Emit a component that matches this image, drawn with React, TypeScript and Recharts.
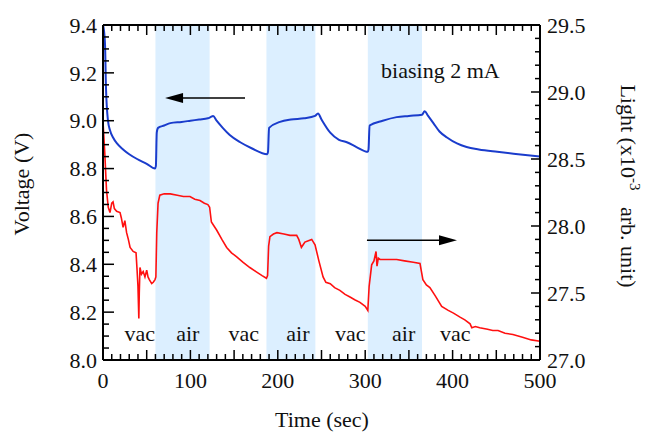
import React from 'react';
import { LineChart, Line, XAxis, YAxis, ReferenceArea, ReferenceLine, ReferenceDot } from 'recharts';

// voltage under 2 mA bias (left axis)
const voltT = [
  0, 1, 2.3, 3.4, 5.7, 8, 11.5, 16, 23, 30,
  39, 50, 59.5, 60.5, 61.5, 63, 70, 77, 90, 100,
  110, 120, 123, 126, 130, 137, 145, 157, 170, 188,
  188.8, 190, 202.5, 215, 230, 242.6, 246, 250, 260, 270,
  279, 290, 303, 303.8, 305, 320, 336, 350, 365, 368,
  372, 378, 385, 393.6, 405, 416, 430, 451, 475, 500,
];
const voltV = [
  9.4, 9.38, 9.32, 9.14, 9.0, 8.96, 8.93, 8.905, 8.88, 8.86,
  8.84, 8.82, 8.8, 8.81, 8.95, 8.97, 8.98, 8.99, 8.995, 9.0,
  9.005, 9.01, 9.015, 9.02, 9.0, 8.97, 8.94, 8.91, 8.885, 8.86,
  8.87, 8.97, 8.995, 9.005, 9.01, 9.02, 9.03, 9.005, 8.95, 8.92,
  8.91, 8.89, 8.87, 8.88, 8.98, 9.0, 9.015, 9.02, 9.025, 9.04,
  9.02, 8.99, 8.955, 8.93, 8.905, 8.89, 8.88, 8.87, 8.86, 8.85,
];

// light output x10^-3 (right axis)
const lightT = [
  0, 2, 4, 6, 8, 10, 11.5, 13, 15.6, 19.5,
  21, 23, 25, 27, 29, 31, 34.5, 37.8, 39, 40,
  41, 41.5, 42.3, 44, 46, 48, 50, 51.5, 53, 55.7,
  57.5, 59.5, 60.5, 61.5, 63, 65, 70, 77, 85, 92,
  99.5, 105, 111, 116, 120, 122, 124, 127, 130, 136,
  141.5, 147, 153, 160, 168, 175, 182, 187, 188.3, 189.5,
  191, 195, 199, 207, 214, 221.6, 224, 227, 229, 231,
  235, 238.8, 242.6, 247, 251.8, 255, 260, 265, 271, 277,
  282.6, 288, 294, 300, 303, 304.5, 307.4, 310, 312.4, 313.5,
  315, 317, 325, 336, 345, 355, 362.7, 366, 370, 374,
  380, 387.5, 395, 401, 408.5, 414, 420, 422, 426, 431,
  440, 446, 452, 460, 469, 480, 490, 500,
];
const lightL = [
  28.78, 28.55, 28.27, 28.14, 28.1, 28.17, 28.18, 28.13, 28.11, 28.1,
  28.06, 27.99, 28.04, 27.95, 27.9, 27.84, 27.81, 27.8, 27.67, 27.55,
  27.31, 27.5, 27.69, 27.64, 27.66, 27.62, 27.67, 27.62, 27.6, 27.57,
  27.58, 27.6, 27.62, 27.95, 28.17, 28.23, 28.24, 28.24, 28.23, 28.22,
  28.22, 28.2, 28.19, 28.17, 28.16, 28.14, 28.03, 28.0, 27.97, 27.9,
  27.84, 27.8, 27.77, 27.73, 27.69, 27.66, 27.63, 27.61, 27.63, 27.85,
  27.92, 27.94, 27.95, 27.94, 27.93, 27.93, 27.9, 27.84, 27.86, 27.88,
  27.89, 27.9, 27.86, 27.74, 27.62, 27.58, 27.57, 27.54, 27.52, 27.49,
  27.47, 27.45, 27.43, 27.4, 27.37, 27.55, 27.71, 27.74, 27.81, 27.7,
  27.76, 27.75, 27.75, 27.75, 27.74, 27.73, 27.72, 27.6, 27.56, 27.54,
  27.48, 27.4, 27.37, 27.35, 27.32, 27.3, 27.27, 27.24, 27.25, 27.24,
  27.23, 27.22, 27.22, 27.2, 27.19, 27.17, 27.15, 27.14,
];

const airPeriods = [[60, 122], [187, 243], [303, 365]];
const envLabels = [
  { t: 42, text: 'vac' }, { t: 97, text: 'air' }, { t: 161, text: 'vac' },
  { t: 223, text: 'air' }, { t: 283, text: 'vac' }, { t: 344, text: 'air' },
  { t: 403, text: 'vac' },
];

const timeLabels = [0, 100, 200, 300, 400, 500];
const voltLabels = [8.0, 8.2, 8.4, 8.6, 8.8, 9.0, 9.2, 9.4];
const lightLabels = [27.0, 27.5, 28.0, 28.5, 29.0, 29.5];

const timeTicks = Array.from({ length: 51 }, (_, i) => i * 10);
const voltTicks = Array.from({ length: 29 }, (_, i) => Math.round((8 + i * 0.05) * 100) / 100);
const lightTicks = Array.from({ length: 26 }, (_, i) => Math.round((27 + i * 0.1) * 10) / 10);

const voltData = voltT.map((t, i) => ({ t, v: voltV[i] }));
const lightData = lightT.map((t, i) => ({ t, l: lightL[i] }));

const FONT = '"Liberation Serif", "Times New Roman", serif';
const PLOT_TOP = 25;

const near = (a: number, b: number) => Math.abs(a - b) < 1e-6;

const TimeTick = ({ x, y, payload }: any) => {
  const t = payload.value;
  const len = t % 50 === 0 ? 10 : 6;
  return (
    <g>
      <line x1={x} x2={x} y1={y} y2={y - len} stroke="#000" strokeWidth={1.5} />
      <line x1={x} x2={x} y1={PLOT_TOP} y2={PLOT_TOP + len} stroke="#000" strokeWidth={1.5} />
      {timeLabels.includes(t) && (
        <text x={x} y={y + 28} textAnchor="middle" fontFamily={FONT} fontSize={22} fill="#111">
          {t}
        </text>
      )}
    </g>
  );
};

const VoltTick = ({ x, y, payload }: any) => {
  const v = payload.value;
  const major = voltLabels.some((m) => near(m, v));
  return (
    <g>
      <line x1={x} x2={x + (major ? 11 : 6)} y1={y} y2={y} stroke="#000" strokeWidth={1.5} />
      {major && (
        <text x={x - 6} y={y} dy="0.35em" textAnchor="end" fontFamily={FONT} fontSize={22} fill="#111">
          {v.toFixed(1)}
        </text>
      )}
    </g>
  );
};

const LightTick = ({ x, y, payload }: any) => {
  const l = payload.value;
  const major = lightLabels.some((m) => near(m, l));
  return (
    <g>
      <line x1={x} x2={x - (major ? 9 : 5)} y1={y} y2={y} stroke="#000" strokeWidth={1.5} />
      {major && (
        <text x={x + 7} y={y} dy="0.35em" textAnchor="start" fontFamily={FONT} fontSize={22} fill="#111">
          {l.toFixed(1)}
        </text>
      )}
    </g>
  );
};

const arrowShape = (p: any) => {
  const { x1, y1, x2, y2 } = p;
  const dir = Math.sign(x2 - x1);
  const head = 18;
  const hw = 5;
  return (
    <g>
      <line x1={x1} y1={y1} x2={x2 - dir * head * 0.7} y2={y2} stroke="#000" strokeWidth={1.5} />
      <polygon points={`${x2},${y2} ${x2 - dir * head},${y2 - hw} ${x2 - dir * head},${y2 + hw}`} fill="#000" />
    </g>
  );
};

const textShape = (text: string) => (p: any) => (
  <text x={p.cx} y={p.cy} dy="0.35em" textAnchor="middle" fontFamily={FONT} fontSize={22} fill="#111">
    {text}
  </text>
);

export default function App() {
  return (
    <div style={{ position: 'absolute', left: 0, top: 0, width: 645, height: 433, background: '#fff' }}>
      <LineChart width={645} height={433} margin={{ top: PLOT_TOP, right: 45, left: 43, bottom: 33 }}>
        {airPeriods.map(([a, b]) => (
          <ReferenceArea key={a} x1={a} x2={b} yAxisId="v" y1={8} y2={9.4} fill="#dcefff" fillOpacity={1} stroke="none" />
        ))}
        <XAxis
          dataKey="t"
          type="number"
          domain={[0, 500]}
          ticks={timeTicks}
          interval={0}
          allowDataOverflow
          height={40}
          tickSize={0}
          tickMargin={0}
          tick={<TimeTick />}
          axisLine={{ stroke: '#000', strokeWidth: 2 }}
          tickLine={false}
        />
        <YAxis
          yAxisId="v"
          orientation="left"
          type="number"
          domain={[8, 9.4]}
          ticks={voltTicks}
          interval={0}
          allowDataOverflow
          width={60}
          tickSize={0}
          tickMargin={0}
          tick={<VoltTick />}
          axisLine={{ stroke: '#000', strokeWidth: 2 }}
          tickLine={false}
        />
        <YAxis
          yAxisId="l"
          orientation="right"
          type="number"
          domain={[27, 29.5]}
          ticks={lightTicks}
          interval={0}
          allowDataOverflow
          width={60}
          tickSize={0}
          tickMargin={0}
          tick={<LightTick />}
          axisLine={{ stroke: '#000', strokeWidth: 2 }}
          tickLine={false}
        />
        <ReferenceLine yAxisId="v" y={9.4} stroke="#000" strokeWidth={2} />
        <Line
          data={lightData}
          yAxisId="l"
          dataKey="l"
          type="linear"
          stroke="#ff1010"
          strokeWidth={1.6}
          dot={false}
          isAnimationActive={false}
        />
        <Line
          data={voltData}
          yAxisId="v"
          dataKey="v"
          type="monotone"
          stroke="#1a3ccc"
          strokeWidth={2}
          dot={false}
          isAnimationActive={false}
        />
        <ReferenceLine yAxisId="v" segment={[{ x: 162.5, y: 9.095 }, { x: 71, y: 9.095 }]} shape={arrowShape} />
        <ReferenceLine yAxisId="v" segment={[{ x: 302, y: 8.5 }, { x: 405, y: 8.5 }]} shape={arrowShape} />
        {envLabels.map((e) => (
          <ReferenceDot key={e.t} yAxisId="v" x={e.t} y={8.113} r={1} shape={textShape(e.text)} />
        ))}
        <ReferenceDot yAxisId="v" x={386} y={9.212} r={1} shape={textShape('biasing 2 mA')} />
      </LineChart>
      <svg width={645} height={433} style={{ position: 'absolute', left: 0, top: 0, pointerEvents: 'none' }}>
        <text x={322} y={427} textAnchor="middle" fontFamily={FONT} fontSize={22} fill="#111">
          Time (sec)
        </text>
        <text transform="translate(29,184) rotate(-90)" textAnchor="middle" fontFamily={FONT} fontSize={22} fill="#111">
          Voltage (V)
        </text>
        <text transform="translate(621,186) rotate(90)" textAnchor="middle" fontFamily={FONT} fontSize={22} fill="#111">
          Light (x10
          <tspan dy={-9} fontSize={15}>-3</tspan>
          <tspan dy={9}>{'\u00a0\u00a0\u00a0arb. unit)'}</tspan>
        </text>
      </svg>
    </div>
  );
}
